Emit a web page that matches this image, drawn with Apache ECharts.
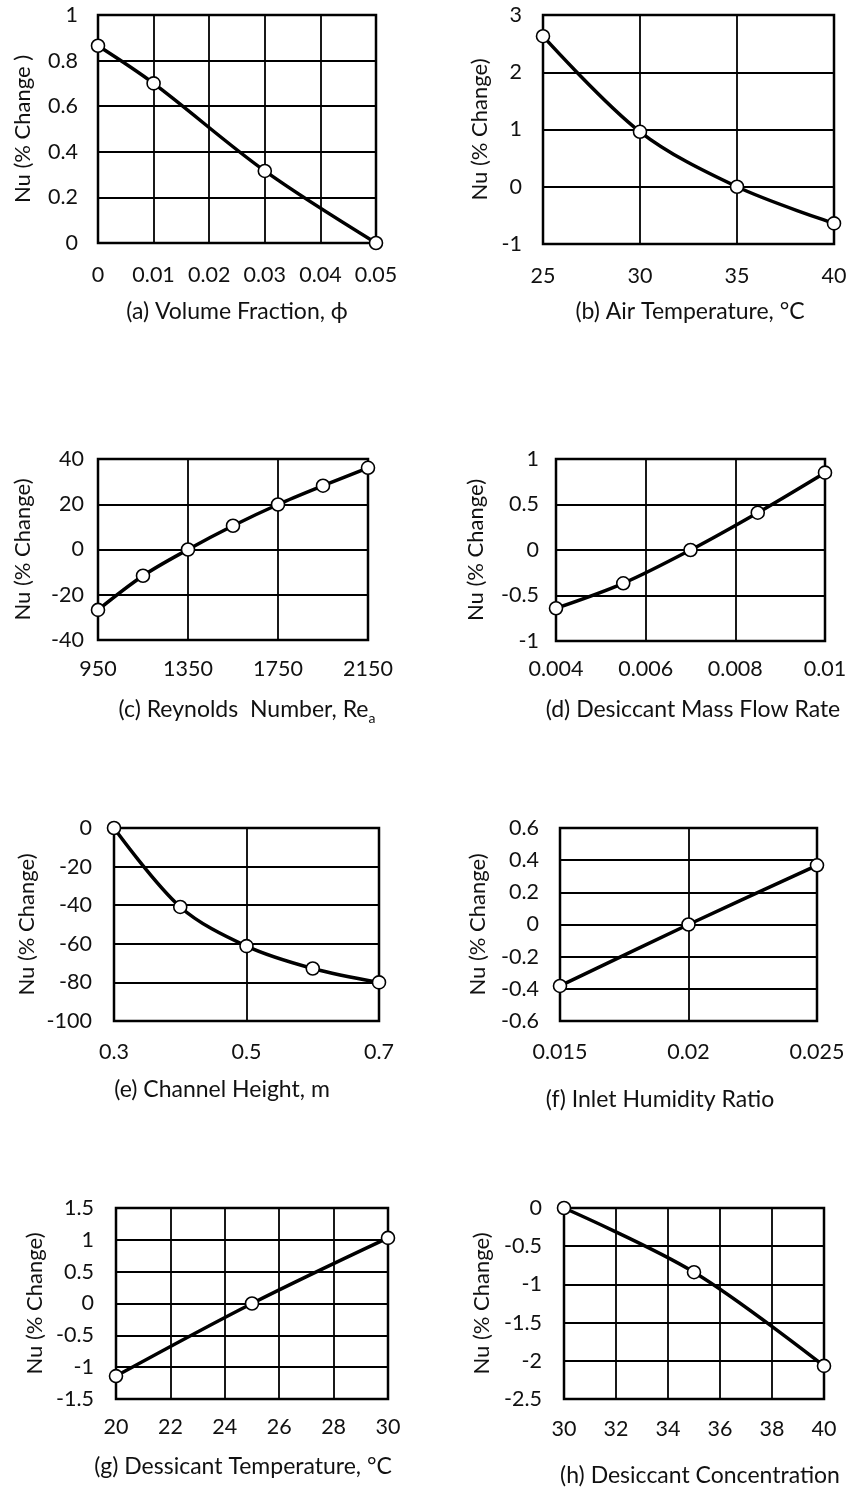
<!DOCTYPE html>
<html><head><meta charset="utf-8">
<script src="https://cdn.jsdelivr.net/npm/echarts@6/dist/echarts.min.js"></script>
<style>html,body{margin:0;padding:0;background:#fff}#c{width:853px;height:1488px}</style>
</head><body><div id="c"></div>
<script>
// ---------- DATA ----------
// (a) Volume Fraction
const volFracX = [0, 0.01, 0.03, 0.05];
const volFracNu = [0.865, 0.70, 0.316, 0];
const volFracAxisX = [0, 0.05, 0.01];
const volFracAxisY = [0, 1, 0.2];
// (b) Air Temperature
const airTempX = [25, 30, 35, 40];
const airTempNu = [2.63, 0.96, 0, -0.64];
const airTempAxisX = [25, 40, 5];
const airTempAxisY = [-1, 3, 1];
// (c) Reynolds Number
const reX = [950, 1150, 1350, 1550, 1750, 1950, 2150];
const reNu = [-26.7, -11.6, 0, 10.5, 19.9, 28.2, 36.1];
const reAxisX = [950, 2150, 400];
const reAxisY = [-40, 40, 20];
// (d) Desiccant Mass Flow Rate
const mfrX = [0.004, 0.0055, 0.007, 0.0085, 0.01];
const mfrNu = [-0.64, -0.366, 0, 0.41, 0.85];
const mfrAxisX = [0.004, 0.01, 0.002];
const mfrAxisY = [-1, 1, 0.5];
// (e) Channel Height
const chX = [0.3, 0.4, 0.5, 0.6, 0.7];
const chNu = [0, -40.9, -61.2, -72.8, -80];
const chAxisX = [0.3, 0.7, 0.2];
const chAxisY = [-100, 0, 20];
// (f) Inlet Humidity Ratio
const humX = [0.015, 0.02, 0.025];
const humNu = [-0.382, 0, 0.368];
const humAxisX = [0.015, 0.025, 0.005];
const humAxisY = [-0.6, 0.6, 0.2];
// (g) Dessicant Temperature
const dtX = [20, 25, 30];
const dtNu = [-1.14, 0, 1.03];
const dtAxisX = [20, 30, 2];
const dtAxisY = [-1.5, 1.5, 0.5];
// (h) Desiccant Concentration
const dcX = [30, 35, 40];
const dcNu = [0, -0.84, -2.067];
const dcAxisX = [30, 40, 2];
const dcAxisY = [-2.5, 0, 0.5];

const captions = [
  '(a) Volume Fraction, ϕ',
  '(b) Air Temperature, °C',
  '{m|(c) Reynolds  Number, Re}{sub|a}',
  '(d) Desiccant Mass Flow Rate',
  '(e) Channel Height, m',
  '(f) Inlet Humidity Ratio',
  '(g) Dessicant Temperature, °C',
  '(h) Desiccant Concentration'
];
const yNames = ['Nu (% Change )', 'Nu (% Change)', 'Nu (% Change)', 'Nu (% Change)',
                'Nu (% Change)', 'Nu (% Change)', 'Nu (% Change)', 'Nu (% Change)'];

const panelData = [
  [volFracX, volFracNu, volFracAxisX, volFracAxisY],
  [airTempX, airTempNu, airTempAxisX, airTempAxisY],
  [reX, reNu, reAxisX, reAxisY],
  [mfrX, mfrNu, mfrAxisX, mfrAxisY],
  [chX, chNu, chAxisX, chAxisY],
  [humX, humNu, humAxisX, humAxisY],
  [dtX, dtNu, dtAxisX, dtAxisY],
  [dcX, dcNu, dcAxisX, dcAxisY]
];

// ---------- LAYOUT ----------
const layout = [
  {g:[98,15,278,228],  ym:20, xm:21, nx:23,  cap:[237,312]},
  {g:[543,15,291,229], ym:21, xm:21, nx:480, cap:[690,312]},
  {g:[98,459,270,181], ym:14, xm:18, nx:23,  cap:[247,710]},
  {g:[556,459,269,182],ym:17, xm:17, nx:476, cap:[693,710]},
  {g:[114,828,265,193],ym:22, xm:20, nx:27,  cap:[222,1090]},
  {g:[560,828,257,193],ym:21, xm:20, nx:478, cap:[660,1100]},
  {g:[116,1208,272,191],ym:22, xm:17, nx:35,  cap:[243,1467]},
  {g:[564,1208,260,191],ym:22, xm:19, nx:482, cap:[700,1476]}
];

const FONT = 'Lato';
const TXT = '#111';
const TICK = 21.5, NAME = 22, CAP = 23;
const fmt = v => String(+(+v).toFixed(6));

const grids = [], xAxes = [], yAxes = [], series = [], graphics = [];
panelData.forEach((p, i) => {
  const L = layout[i];
  grids.push({left:L.g[0], top:L.g[1], width:L.g[2], height:L.g[3], show:true,
    borderColor:'#000', borderWidth:2.5, backgroundColor:'transparent', containLabel:false});
  xAxes.push({type:'value', gridIndex:i, min:p[2][0], max:p[2][1], interval:p[2][2],
    axisLine:{show:false}, axisTick:{show:false},
    splitLine:{show:true, lineStyle:{color:'#000', width:1.8}},
    axisLabel:{margin:L.xm, fontFamily:FONT, fontSize:TICK, color:TXT, formatter:fmt, showMinLabel:true, showMaxLabel:true}});
  yAxes.push({type:'value', gridIndex:i, min:p[3][0], max:p[3][1], interval:p[3][2],
    axisLine:{show:false}, axisTick:{show:false},
    splitLine:{show:true, lineStyle:{color:'#000', width:1.8}},
    axisLabel:{margin:L.ym, fontFamily:FONT, fontSize:TICK, color:TXT, formatter:fmt, showMinLabel:true, showMaxLabel:true}});
  series.push({type:'line', xAxisIndex:i, yAxisIndex:i, clip:false,
    data:p[0].map((x, k) => [x, p[1][k]]),
    smooth:0.33,
    lineStyle:{color:'#000', width:3.5},
    symbol:'circle', symbolSize:13, showAllSymbol:true,
    itemStyle:{color:'#fff', borderColor:'#000', borderWidth:1.6},
    z:5, animation:false});
  graphics.push({type:'text', x:L.nx, y:L.g[1] + L.g[3]/2, rotation:Math.PI/2,
    style:{text:yNames[i], fontFamily:FONT, fontSize:NAME, fill:TXT,
      align:'center', verticalAlign:'middle', textAlign:'center', textVerticalAlign:'middle'}});
  graphics.push({type:'text', x:L.cap[0], y:L.cap[1],
    style:{text:captions[i], fontFamily:FONT, fontSize:CAP, fill:TXT,
      align:'center', verticalAlign:'middle', textAlign:'center', textVerticalAlign:'middle',
      rich:{
        m:{fontFamily:FONT, fontSize:CAP, fill:TXT, lineHeight:30, verticalAlign:'middle'},
        sub:{fontFamily:FONT, fontSize:14, fill:TXT, verticalAlign:'bottom', lineHeight:11}
      }}});
});

const chart = echarts.init(document.getElementById('c'), null, {renderer:'canvas'});
chart.setOption({
  animation:false,
  backgroundColor:'#fff',
  grid:grids, xAxis:xAxes, yAxis:yAxes, series:series,
  graphic:{elements:graphics}
});
</script></body></html>
